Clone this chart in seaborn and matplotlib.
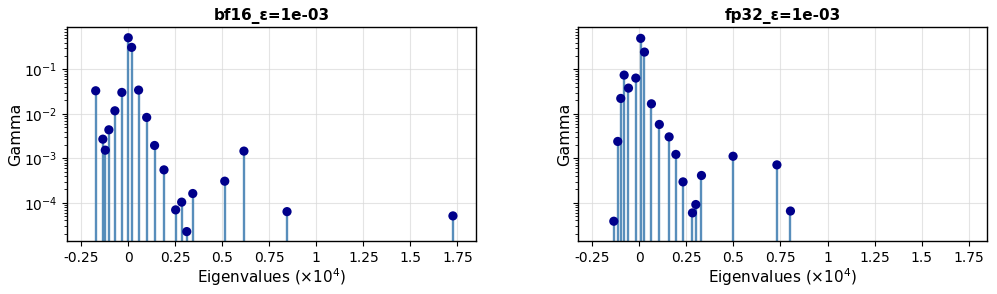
import numpy as np
import pandas as pd
import matplotlib
matplotlib.use("Agg")
import matplotlib.pyplot as plt
from matplotlib.ticker import FuncFormatter, FixedLocator
import seaborn as sns

# ---- data (eigenvalues in units of 1e4, gamma) ----
bf16_eig = [-0.173, -0.135, -0.122, -0.103, -0.071, -0.034, 0.000, 0.018, 0.055,
            0.098, 0.140, 0.190, 0.252, 0.284, 0.311, 0.343, 0.513, 0.615, 0.844, 1.726]
bf16_gamma = [0.033, 0.00269, 0.00152, 0.00437, 0.0117, 0.0303, 0.515, 0.313, 0.0342,
              0.0083, 0.00194, 0.000548, 6.9e-5, 1.03e-4, 2.24e-5, 1.61e-4, 3.05e-4,
              0.00145, 6.3e-5, 5.05e-5]

fp32_eig = [-0.136, -0.115, -0.099, -0.081, -0.058, -0.019, 0.007, 0.027, 0.064,
            0.106, 0.158, 0.194, 0.232, 0.282, 0.300, 0.330, 0.498, 0.731, 0.803]
fp32_gamma = [3.83e-5, 0.00239, 0.0222, 0.0744, 0.0379, 0.0637, 0.499, 0.245, 0.0168,
              0.00577, 0.00303, 0.00122, 0.000294, 5.9e-5, 9.1e-5, 0.00041, 0.00111,
              0.00071, 6.5e-5]

titles = ["bf16_\u03b5=1e-03", "fp32_\u03b5=1e-03"]
x_ticks = [-0.25, 0, 0.25, 0.5, 0.75, 1, 1.25, 1.5, 1.75]

sns.set_style("ticks")
plt.rcParams['font.family'] = ['DejaVu Sans']
plt.rcParams['text.color'] = 'black'
plt.rcParams['axes.labelcolor'] = 'black'
plt.rcParams['xtick.color'] = 'black'
plt.rcParams['ytick.color'] = 'black'

fig, axes = plt.subplots(1, 2, figsize=(9.97, 2.94), dpi=100, sharey=True, sharex=True)
fig.subplots_adjust(left=0.0675, right=0.990, top=0.907, bottom=0.180, wspace=0.251)

ylo, yhi = 1.37e-5, 0.883
datasets = [(bf16_eig, bf16_gamma), (fp32_eig, fp32_gamma)]
for ax, (eig, gam), title in zip(axes, datasets, titles):
    df = pd.DataFrame({"eig": eig, "gamma": gam})
    ax.set_yscale("log")
    ax.vlines(df["eig"], ylo, df["gamma"], color="#4682b4", alpha=0.9,
              linewidth=1.7, zorder=2)
    sns.scatterplot(data=df, x="eig", y="gamma", ax=ax, color="#00008b", s=44,
                    edgecolor="none", zorder=3, legend=False)
    ax.set_ylim(ylo, yhi)
    ax.set_xlim(-0.324, 1.848)
    ax.xaxis.set_major_locator(FixedLocator(x_ticks))
    ax.xaxis.set_major_formatter(FuncFormatter(lambda v, p: "{:g}".format(round(v, 4))))
    ax.grid(True, which="major", color="#d9d9d9", linewidth=0.8, alpha=0.7)
    ax.set_axisbelow(True)
    for s in ax.spines.values():
        s.set_visible(True)
        s.set_color("black")
        s.set_linewidth(1.0)
    ax.tick_params(axis="both", labelsize=10, colors="black")
    ax.set_title(title, fontsize=11, fontweight="bold", pad=5, color="black")
    ax.set_xlabel("Eigenvalues ($\\times10^4$)", fontsize=11, labelpad=1, color="black")
    ax.set_ylabel("Gamma", fontsize=11.5, labelpad=1, color="black")

axes[1].tick_params(axis="y", labelleft=False)
axes[1].yaxis.label.set_visible(True)

fig.savefig("out.png", dpi=100)
